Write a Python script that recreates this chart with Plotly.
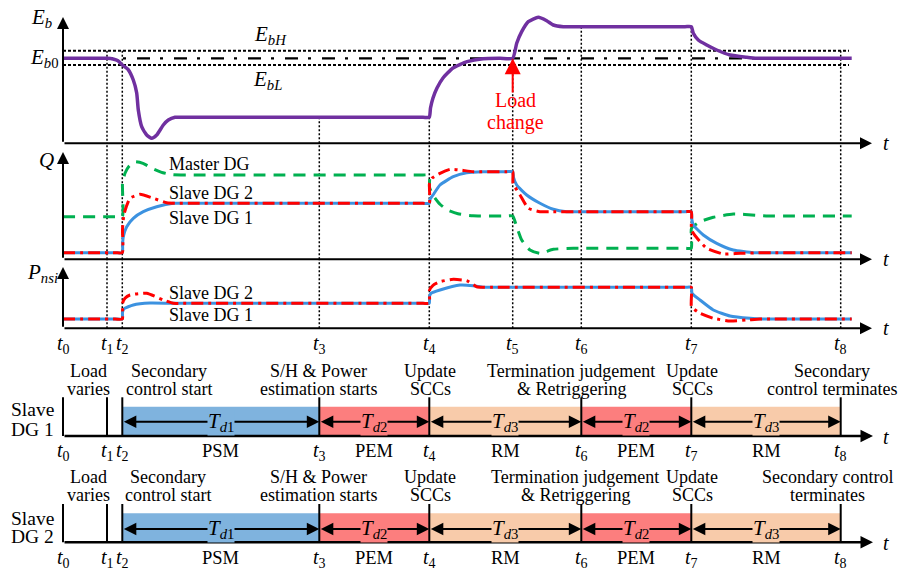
import plotly.graph_objects as go

FONT = "Liberation Serif"
W, H = 898, 573

# ---------------- time instants (common time axis, t0 = 0) ----------------
t_marks = [0, 44, 59.3, 256.3, 366.3, 449.7, 518.3, 628.3, 777.7]
t_names = ["<i>t</i><sub>%d</sub>" % i for i in range(9)]
t_arrow_tip = 809

# ---------------- DC-link energy E_b ----------------
E_bH, E_b0, E_bL = 92.6, 85.0, 78.3
eb_t = [0, 38, 44, 50, 55, 59.3, 65, 70.3, 73.7, 75.3, 78.7, 83.7, 88.7, 93.7, 100.3, 105.3, 112,
        120, 360, 366.3,
        367.5, 370, 374, 380, 390, 404, 420, 437, 449.7,
        453.7, 458.7, 465.3, 475.3, 483.7, 490.3, 500.3, 510, 622, 628.3,
        630.3, 635.3, 643.7, 653.7, 667, 683.7, 693.7, 705, 788.7]
eb_v = [85, 85, 85, 84.3, 82.5, 78.3, 74, 63.3, 50.3, 33.3, 16.6, 8.3, 5, 8.3, 18.3, 23.3, 26,
        26, 26, 26,
        35.3, 45.3, 55.3, 65.3, 75.3, 81.6, 84.6, 85, 85,
        100, 111.6, 121.6, 126, 122.6, 118.3, 116.6, 116.6, 116.6, 116.6,
        110, 103.3, 98.3, 93.3, 88.3, 86, 85, 85, 85]

# ---------------- reactive power Q ----------------
qm_t = [0, 52, 59.3, 59.5, 62, 66, 72, 80, 90, 100, 110, 125, 135, 360, 366.3,
        366.5, 370, 377, 385, 395, 410, 443, 449.7,
        453.7, 458.7, 467, 477, 490.3, 510.3, 520, 622, 628.3,
        628.5, 637, 650.3, 670.3, 693.7, 705, 788.7]
qm_v = [42.6, 42.6, 42.6, 76, 86, 93, 97.6, 96, 90.6, 86.6, 84.5, 84.3, 84.3, 84.3, 84.3,
        72, 64, 55, 49, 45.5, 43.5, 43.3, 43.3,
        32.6, 19.3, 9.3, 6, 10, 11, 11, 11, 11,
        31, 37.6, 42, 45.3, 44, 43.3, 43.3]

q1_t = [0, 52, 59.3, 59.6, 60.3, 63.7, 70.3, 80.3, 93.7, 110.3, 120, 360, 366.3,
        367, 370, 377, 390.3, 403.7, 420.3, 443, 449.7,
        450.5, 453.7, 463.7, 477, 490.3, 503.7, 515, 622, 628.3,
        628.8, 630.3, 640.3, 653.7, 670.3, 690.3, 700, 788.7]
q1_v = [6.6, 6.6, 6.6, 15, 22.6, 32.6, 41, 47.6, 52.6, 56, 56, 56, 56,
        60, 64.3, 74.3, 82.6, 86.6, 87.6, 87.6, 87.6,
        82, 74.3, 64.3, 56, 50, 47.6, 47.6, 47.6, 47.6,
        40, 34.3, 24.3, 16, 9.3, 6.6, 6.6, 6.6]

q2_t = [0, 52, 59.3, 59.5, 61, 67, 77, 90.3, 103.7, 115, 125, 360, 366.3,
        366.5, 369, 377, 387, 397, 410.3, 443, 449.7,
        450, 457, 465.3, 477, 487, 622, 628.3,
        628.5, 635, 643.7, 660.3, 677, 700, 710, 788.7]
q2_v = [6.6, 6.6, 6.6, 30, 45, 61, 65, 61, 56.6, 56, 56, 56, 56,
        76, 81, 86, 90, 89.3, 87.6, 87.6, 87.6,
        76, 64.3, 51, 47.6, 47.6, 47.6, 47.6,
        29.3, 20, 11, 5.3, 6, 6.6, 6.6, 6.6]

# ---------------- P_nsi ----------------
p1_t = [0, 52, 59.3, 59.5, 61, 70.3, 87, 107, 117, 360, 366.3,
        366.5, 368, 377, 397, 410.3, 420.3, 430, 622, 628.3,
        629, 637, 650.3, 667, 687, 700, 710, 788.7]
p1_v = [9.3, 9.3, 9.3, 16, 19.5, 23.3, 25.2, 25, 25, 25, 25,
        32, 35, 38.3, 43.3, 42.6, 41, 41, 41, 41,
        35, 28.3, 18.3, 12.3, 10, 9.3, 9.3, 9.3]

p2_t = [0, 52, 59.3, 59.5, 62, 67, 83.7, 100.3, 110.3, 120, 360, 366.3,
        366.5, 370, 377, 390.3, 403.7, 413.7, 420, 430, 622, 628.3,
        628.5, 637, 650.3, 667, 683.7, 697, 707, 788.7]
p2_v = [9.3, 9.3, 9.3, 25, 30, 33.3, 35, 28.3, 25, 25, 25, 25,
        38, 43, 46.6, 49, 47.6, 41.6, 41, 41, 41, 41,
        21.6, 15, 10, 7.3, 8.3, 9.3, 9.3, 9.3]

# level of E_b where each dotted guide (t1..t8) starts
guide_top = [E_bH, E_bH, 26, 26, E_b0, 116.6, 116.6, E_bH]

# ---------------- timeline stages ----------------
stage_from = [2, 3, 4, 6, 7]
stage_to = [3, 4, 6, 7, 8]
stage_mode = ["PSM", "PEM", "RM", "PEM", "RM"]
stage_delay = ["1", "2", "3", "2", "3"]
mode_color = {"PSM": "#7FB3DE", "PEM": "#FC7E7E", "RM": "#F8CBAA"}
timeline_ticks = [0, 1, 2, 3, 4, 6, 7, 8]

events_dg1 = [(25, "Load", "varies"), (106, "Secondary", "control start"),
              (255, "S/H &amp; Power", "estimation starts"), (367, "Update", "SCCs"),
              (508, "Termination judgement", "&amp; Retriggering"), (629, "Update", "SCCs"),
              (769, "Secondary", "control terminates")]
events_dg2 = [(25, "Load", "varies"), (105, "Secondary", "control start"),
              (255, "S/H &amp; Power", "estimation starts"), (367, "Update", "SCCs"),
              (512, "Termination judgement", "&amp; Retriggering"), (629, "Update", "SCCs"),
              (764, "Secondary control", "terminates")]

# ---------------- figure ----------------
EB_TOP, EB_BASE = 13.3, 143.3
Q_BASE, P_BASE = 259.3, 328.3


def dom(top, base):
    return [1 - base / H, 1 - top / H]


fig = go.Figure()

fig.update_layout(
    width=W, height=H, margin=dict(l=0, r=0, t=0, b=0),
    paper_bgcolor="white", plot_bgcolor="rgba(0,0,0,0)", showlegend=False,
    font=dict(family=FONT),
    xaxis=dict(range=[-63, 835], domain=[0, 1], visible=False, fixedrange=True),
    yaxis=dict(range=[0, EB_BASE - EB_TOP], domain=dom(EB_TOP, EB_BASE), visible=False,
               anchor="x", fixedrange=True),
    yaxis2=dict(range=[0, Q_BASE - EB_BASE], domain=dom(EB_BASE, Q_BASE), visible=False,
                anchor="x", fixedrange=True),
    yaxis3=dict(range=[0, P_BASE - Q_BASE], domain=dom(Q_BASE, P_BASE), visible=False,
                anchor="x", fixedrange=True),
    yaxis4=dict(range=[H, 0], domain=[0, 1], visible=False, anchor="x", fixedrange=True),
)

# page-level helper axis
fig.add_trace(go.Scatter(x=[0], y=[0], xaxis="x", yaxis="y4", mode="markers",
                         marker=dict(opacity=0), hoverinfo="skip"))


def seg(x0, y0, x1, y1, yref="y4", color="black", width=2, dash=None, layer="above"):
    fig.add_shape(type="line", xref="x", yref=yref, x0=x0, y0=y0, x1=x1, y1=y1,
                  line=dict(color=color, width=width, dash=dash), layer=layer)


def text(x, y, s, size=18, color="black", xanchor="center", bg=None):
    fig.add_annotation(x=x, y=y, xref="x", yref="y4", text=s, showarrow=False,
                       font=dict(family=FONT, size=size, color=color),
                       xanchor=xanchor, yanchor="middle",
                       bgcolor=bg if bg else "rgba(0,0,0,0)", borderpad=0)


def arrow(x, y, ax, ay, color="black", width=2, size=1.2, both=False):
    fig.add_annotation(x=x, y=y, ax=ax, ay=ay, xref="x", yref="y4", axref="x", ayref="y4",
                       text="", showarrow=True, arrowhead=2, arrowsize=size, arrowwidth=width,
                       arrowcolor=color, arrowside="end+start" if both else "end",
                       startarrowhead=2, startarrowsize=size)


# threshold lines of E_b
seg(0, E_bH, 786, E_bH, yref="y", width=2, dash="3px,2px", layer="below")
seg(0, E_bL, 786, E_bL, yref="y", width=2, dash="3px,2px", layer="below")
seg(0, E_b0, 786, E_b0, yref="y", width=2.2, dash="13px,10px,3px,11px", layer="below")

# dotted guides t1..t8 through the three panels
for k in range(1, 9):
    x = t_marks[k]
    seg(x, guide_top[k - 1], x, 0, yref="y", width=1.5, dash="2px,2px", layer="below")
    seg(x, 0, x, Q_BASE - EB_BASE, yref="y2", width=1.5, dash="2px,2px", layer="below")
    seg(x, 0, x, P_BASE - Q_BASE, yref="y3", width=1.5, dash="2px,2px", layer="below")

# curves
spl = dict(shape="spline", smoothing=0.5)
fig.add_trace(go.Scatter(x=eb_t, y=eb_v, xaxis="x", yaxis="y", mode="lines",
                         line=dict(color="#7030A0", width=3.5, **spl)))
fig.add_trace(go.Scatter(x=qm_t, y=qm_v, xaxis="x", yaxis="y2", mode="lines",
                         line=dict(color="#00B050", width=3, dash="12px,8px", **spl)))
fig.add_trace(go.Scatter(x=q1_t, y=q1_v, xaxis="x", yaxis="y2", mode="lines",
                         line=dict(color="#3C92E0", width=3, **spl)))
fig.add_trace(go.Scatter(x=q2_t, y=q2_v, xaxis="x", yaxis="y2", mode="lines",
                         line=dict(color="#FF0000", width=3, dash="12px,5px,3px,5px", **spl)))
fig.add_trace(go.Scatter(x=p1_t, y=p1_v, xaxis="x", yaxis="y3", mode="lines",
                         line=dict(color="#3C92E0", width=3, **spl)))
fig.add_trace(go.Scatter(x=p2_t, y=p2_v, xaxis="x", yaxis="y3", mode="lines",
                         line=dict(color="#FF0000", width=3, dash="12px,5px,3px,5px", **spl)))

# panel axes
for base, tip in [(EB_BASE, 17), (Q_BASE, 152), (P_BASE, 267)]:
    arrow(0, tip, 0, base)
    arrow(t_arrow_tip, base, 0, base)
    text(t_arrow_tip + 14, base, "<i>t</i>", size=20)

# panel labels
text(-21.3, 18, "<i>E</i><sub><i>b</i></sub>", size=21)
text(-19, 58, "<i>E</i><sub><i>b</i>0</sub>", size=21)
text(207, 35, "<i>E</i><sub><i>bH</i></sub>", size=21)
text(204, 80, "<i>E</i><sub><i>bL</i></sub>", size=21)
text(-16.5, 160, "<i>Q</i>", size=21)
text(-21, 273, "<i>P</i><sub><i>nsi</i></sub>", size=21)

text(105, 164, "Master DG", xanchor="left")
text(105, 193, "Slave DG 2", xanchor="left")
text(105, 218, "Slave DG 1", xanchor="left")
text(105, 293, "Slave DG 2", xanchor="left")
text(105, 315, "Slave DG 1", xanchor="left")

# load change marker
arrow(t_marks[5], 58.3, t_marks[5], 94, color="#FF0000", width=2, size=1.6)
text(t_marks[5] + 3, 100, "Load", size=20, color="#FF0000")
text(t_marks[5] + 3, 122, "change", size=20, color="#FF0000")

for k in range(9):
    text(t_marks[k], 344, t_names[k], size=20)

# ---------------- timelines of the two slave DGs ----------------
rows = [
    dict(base=436, bar_top=406.7, line_top=397.3, arr=421.7, lab=451.3, ev=(370.5, 388.5),
         name=(409.3, 429.3), dg="DG 1", events=events_dg1),
    dict(base=542.3, bar_top=513.3, line_top=504, arr=529, lab=557.5, ev=(476.7, 495),
         name=(518.3, 536.7), dg="DG 2", events=events_dg2),
]

for r in rows:
    for i0, i1, mode in zip(stage_from, stage_to, stage_mode):
        fig.add_shape(type="rect", xref="x", yref="y4", x0=t_marks[i0], x1=t_marks[i1],
                      y0=r["bar_top"], y1=r["base"], fillcolor=mode_color[mode],
                      line=dict(width=0), layer="above")
    for k in timeline_ticks:
        seg(t_marks[k], r["line_top"], t_marks[k], r["base"], width=2)
    arrow(t_arrow_tip + 1, r["base"], 0, r["base"], width=2.5, size=1.0)
    text(t_arrow_tip + 14, r["base"] + 1, "<i>t</i>", size=20)
    for i0, i1, mode, d in zip(stage_from, stage_to, stage_mode, stage_delay):
        a, b = t_marks[i0], t_marks[i1]
        arrow(b, r["arr"], a, r["arr"], width=2, size=1.25, both=True)
        text((a + b) / 2, r["arr"], "<i>T</i><sub><i>d</i>%s</sub>" % d, size=21,
             bg=mode_color[mode])
        text((a + b) / 2, r["lab"], mode, size=18.5)
    for k in timeline_ticks:
        text(t_marks[k], r["lab"] + 0.5, t_names[k], size=20)
    for x, l1, l2 in r["events"]:
        text(x, r["ev"][0], l1)
        text(x, r["ev"][1], l2)
    text(-31, r["name"][0], "Slave", size=19.5)
    text(-31, r["name"][1], r["dg"], size=19.5)

fig.write_html("out.html")
